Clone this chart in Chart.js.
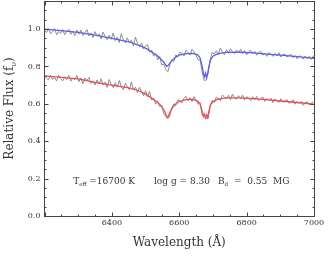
<!DOCTYPE html>
<html>
<head>
<meta charset="utf-8">
<script src="https://cdn.jsdelivr.net/npm/chart.js@4.4.0/dist/chart.umd.min.js"></script>
<style>
  html, body { margin: 0; padding: 0; background: #fff; }
</style>
</head>
<body>
<canvas id="spec" width="329" height="261"></canvas>
<script>
// observed spectra, sampled every 6 A
const obsWave = [
  6200, 6206, 6212, 6218, 6224, 6230, 6236, 6242, 6248, 6254, 6260, 6266, 6272, 6278, 6284, 6290, 6296,
  6302, 6308, 6314, 6320, 6326, 6332, 6338, 6344, 6350, 6356, 6362, 6368, 6374, 6380, 6386, 6392, 6398,
  6404, 6410, 6416, 6422, 6428, 6434, 6440, 6446, 6452, 6458, 6464, 6470, 6476, 6482, 6488, 6494, 6500,
  6506, 6512, 6518, 6524, 6530, 6536, 6542, 6548, 6554, 6560, 6566, 6572, 6578, 6584, 6590, 6596, 6602,
  6608, 6614, 6620, 6626, 6632, 6638, 6644, 6650, 6656, 6662, 6668, 6674, 6680, 6686, 6692, 6698, 6704,
  6710, 6716, 6722, 6728, 6734, 6740, 6746, 6752, 6758, 6764, 6770, 6776, 6782, 6788, 6794, 6800, 6806,
  6812, 6818, 6824, 6830, 6836, 6842, 6848, 6854, 6860, 6866, 6872, 6878, 6884, 6890, 6896, 6902, 6908,
  6914, 6920, 6926, 6932, 6938, 6944, 6950, 6956, 6962, 6968, 6974, 6980, 6986, 6992, 6998
];
const obsUpper = [
  0.995, 0.981, 1.002, 0.975, 0.986, 1.003, 0.969, 0.987, 0.977, 0.997, 0.970, 0.987, 0.998, 0.972, 0.988, 0.965, 0.995,
  0.973, 0.995, 0.966, 0.981, 0.997, 0.963, 0.979, 0.954, 0.986, 0.962, 0.974, 0.947, 0.984, 0.959, 0.943, 0.967, 0.945,
  0.979, 0.938, 0.956, 0.928, 0.975, 0.943, 0.926, 0.953, 0.926, 0.942, 0.911, 0.957, 0.923, 0.906, 0.925, 0.893, 0.910,
  0.916, 0.876, 0.887, 0.855, 0.869, 0.835, 0.853, 0.809, 0.812, 0.785, 0.772, 0.808, 0.836, 0.826, 0.862, 0.851, 0.876,
  0.871, 0.856, 0.886, 0.874, 0.861, 0.892, 0.878, 0.859, 0.835, 0.835, 0.770, 0.725, 0.728, 0.765, 0.838, 0.875, 0.866,
  0.884, 0.863, 0.898, 0.878, 0.864, 0.890, 0.871, 0.895, 0.878, 0.868, 0.888, 0.873, 0.892, 0.869, 0.885, 0.862, 0.879,
  0.887, 0.868, 0.881, 0.860, 0.874, 0.881, 0.860, 0.871, 0.854, 0.875, 0.866, 0.854, 0.870, 0.856, 0.873, 0.850, 0.863,
  0.866, 0.850, 0.859, 0.865, 0.846, 0.858, 0.840, 0.857, 0.852, 0.839, 0.856, 0.842, 0.855, 0.838, 0.857
];
const obsLower = [
  0.753, 0.737, 0.728, 0.753, 0.731, 0.741, 0.722, 0.753, 0.734, 0.723, 0.745, 0.729, 0.752, 0.721, 0.738, 0.729, 0.752,
  0.718, 0.738, 0.708, 0.738, 0.724, 0.741, 0.709, 0.723, 0.701, 0.728, 0.706, 0.734, 0.700, 0.716, 0.688, 0.730, 0.705,
  0.687, 0.713, 0.689, 0.725, 0.692, 0.676, 0.710, 0.692, 0.674, 0.717, 0.674, 0.689, 0.660, 0.688, 0.665, 0.643, 0.670,
  0.639, 0.666, 0.620, 0.631, 0.598, 0.612, 0.585, 0.591, 0.547, 0.532, 0.520, 0.535, 0.579, 0.600, 0.592, 0.622, 0.617,
  0.606, 0.631, 0.640, 0.617, 0.633, 0.612, 0.638, 0.620, 0.598, 0.606, 0.540, 0.525, 0.523, 0.520, 0.593, 0.619, 0.607,
  0.636, 0.627, 0.617, 0.647, 0.637, 0.626, 0.646, 0.622, 0.652, 0.632, 0.624, 0.644, 0.628, 0.647, 0.621, 0.638, 0.631,
  0.617, 0.638, 0.621, 0.640, 0.617, 0.629, 0.636, 0.613, 0.628, 0.617, 0.630, 0.607, 0.626, 0.617, 0.607, 0.627, 0.608,
  0.617, 0.622, 0.603, 0.612, 0.621, 0.598, 0.613, 0.602, 0.613, 0.592, 0.606, 0.611, 0.594, 0.603, 0.613
];

// model fits (Teff 16700 K, log g 8.30, Bd 0.55 MG)
const modelWave = [
  6200, 6250, 6300, 6350, 6400, 6450, 6480, 6500, 6520, 6535, 6545, 6553, 6558, 6563, 6567, 6572, 6580, 6590, 6600, 6620,
  6640, 6655, 6662, 6668, 6672, 6675, 6678, 6681, 6684, 6688, 6693, 6700, 6715, 6740, 6780, 6820, 6860, 6900, 6950, 7000
];
const modelUpper = [
  1.000, 0.992, 0.982, 0.968, 0.950, 0.932, 0.913, 0.898, 0.875, 0.857, 0.840, 0.825, 0.812, 0.800, 0.805, 0.818, 0.835, 0.850, 0.860, 0.868,
  0.870, 0.862, 0.845, 0.800, 0.760, 0.745, 0.765, 0.740, 0.760, 0.800, 0.835, 0.855, 0.868, 0.875, 0.876, 0.872, 0.866, 0.860, 0.852, 0.843
];
const modelLower = [
  0.750, 0.742, 0.733, 0.715, 0.700, 0.685, 0.670, 0.652, 0.628, 0.610, 0.592, 0.572, 0.555, 0.528, 0.532, 0.555, 0.580, 0.600, 0.612, 0.622,
  0.624, 0.615, 0.598, 0.560, 0.535, 0.545, 0.525, 0.540, 0.528, 0.560, 0.595, 0.612, 0.625, 0.632, 0.632, 0.628, 0.622, 0.615, 0.607, 0.598
];

const xTickLabels = [6400, 6600, 6800, 7000];
const yTickLabels = [0.0, 0.2, 0.4, 0.6, 0.8, 1.0];

const toPoints = (xs, ys) => xs.map((w, i) => ({ x: w, y: ys[i] }));

const textColor = '#333';
const serif = '"DejaVu Serif", "Liberation Serif", serif';

// text with a subscript piece, drawn left to right
function drawParts(ctx, parts, x, y, size) {
  let cx = x;
  parts.forEach(p => {
    const s = p.sub ? size * 0.62 : size;
    ctx.font = s + 'px ' + serif;
    ctx.fillText(p.t, cx, p.sub ? y + size * 0.3 : y);
    cx += ctx.measureText(p.t).width;
  });
  return cx - x;
}

function partsWidth(ctx, parts, size) {
  let w = 0;
  parts.forEach(p => {
    ctx.font = (p.sub ? size * 0.62 : size) + 'px ' + serif;
    w += ctx.measureText(p.t).width;
  });
  return w;
}

const framePlugin = {
  id: 'frame',
  afterDraw(chart) {
    const { ctx, chartArea: a, scales: { x, y } } = chart;
    const L = Math.floor(a.left) + 0.5, R = Math.floor(a.right) + 0.5;
    const T = Math.floor(a.top) + 0.5, B = Math.floor(a.bottom) + 0.5;
    ctx.save();
    ctx.strokeStyle = '#444';
    ctx.lineWidth = 1;
    ctx.strokeRect(L, T, R - L, B - T);

    // inward ticks on all four sides
    ctx.beginPath();
    for (let v = 6200; v <= 7000; v += 50) {
      const px = Math.round(x.getPixelForValue(v)) + 0.5;
      const len = v % 200 === 0 ? 4 : 2;
      ctx.moveTo(px, B); ctx.lineTo(px, B - len);
      ctx.moveTo(px, T); ctx.lineTo(px, T + len);
    }
    for (let k = 0; k <= 23; k++) {
      const v = k * 0.05;
      const py = Math.round(y.getPixelForValue(v)) + 0.5;
      const len = k % 4 === 0 ? 4 : 2;
      ctx.moveTo(L, py); ctx.lineTo(L + len, py);
      ctx.moveTo(R, py); ctx.lineTo(R - len, py);
    }
    ctx.stroke();

    // tick labels
    ctx.fillStyle = textColor;
    ctx.font = '8px ' + serif;
    ctx.textAlign = 'center';
    ctx.textBaseline = 'top';
    xTickLabels.forEach(v => ctx.fillText(String(v), x.getPixelForValue(v), a.bottom + 3));
    ctx.textAlign = 'right';
    ctx.textBaseline = 'middle';
    yTickLabels.forEach(v => ctx.fillText(v.toFixed(1), a.left - 4, y.getPixelForValue(v)));

    // x title
    ctx.textAlign = 'center';
    ctx.textBaseline = 'middle';
    ctx.font = '12px ' + serif;
    ctx.fillText('Wavelength (\u00c5)', (a.left + a.right) / 2, 243);

    // y title, rotated, with subscript nu
    ctx.textAlign = 'left';
    const yTitle = [{ t: 'Relative Flux (f' }, { t: '\u03bd', sub: true }, { t: ')' }];
    const tw = partsWidth(ctx, yTitle, 12);
    ctx.save();
    ctx.translate(10, (a.top + a.bottom) / 2);
    ctx.rotate(-Math.PI / 2);
    drawParts(ctx, yTitle, -tw / 2, 0, 12);
    ctx.restore();

    // fit parameters
    const ay = y.getPixelForValue(0.182);
    drawParts(ctx, [{ t: 'T' }, { t: 'eff', sub: true }, { t: ' =16700 K' }], x.getPixelForValue(6285), ay, 9);
    drawParts(ctx, [{ t: 'log g = 8.30' }], x.getPixelForValue(6525), ay, 9);
    drawParts(ctx, [{ t: 'B' }, { t: 'd', sub: true }, { t: '  =  0.55  MG' }], x.getPixelForValue(6715), ay, 9);
    ctx.restore();
  }
};

new Chart(document.getElementById('spec'), {
  type: 'line',
  data: {
    datasets: [
      { label: 'model upper', data: toPoints(modelWave, modelUpper), borderColor: 'rgb(95,95,235)', borderWidth: 1.3, order: 0 },
      { label: 'model lower', data: toPoints(modelWave, modelLower), borderColor: 'rgb(235,80,80)', borderWidth: 1.3, order: 0 },
      { label: 'obs upper', data: toPoints(obsWave, obsUpper), borderColor: 'rgb(140,140,140)', borderWidth: 1, order: 1 },
      { label: 'obs lower', data: toPoints(obsWave, obsLower), borderColor: 'rgb(140,140,140)', borderWidth: 1, order: 1 }
    ]
  },
  options: {
    responsive: false,
    animation: false,
    devicePixelRatio: 1,
    layout: { padding: { left: 44.5, right: 15, top: 1, bottom: 45 } },
    elements: { point: { radius: 0 }, line: { tension: 0, fill: false } },
    plugins: { legend: { display: false }, tooltip: { enabled: false } },
    scales: {
      x: { type: 'linear', min: 6200, max: 7000, display: false },
      y: { type: 'linear', min: 0, max: 1.15, display: false }
    }
  },
  plugins: [framePlugin]
});
</script>
</body>
</html>
